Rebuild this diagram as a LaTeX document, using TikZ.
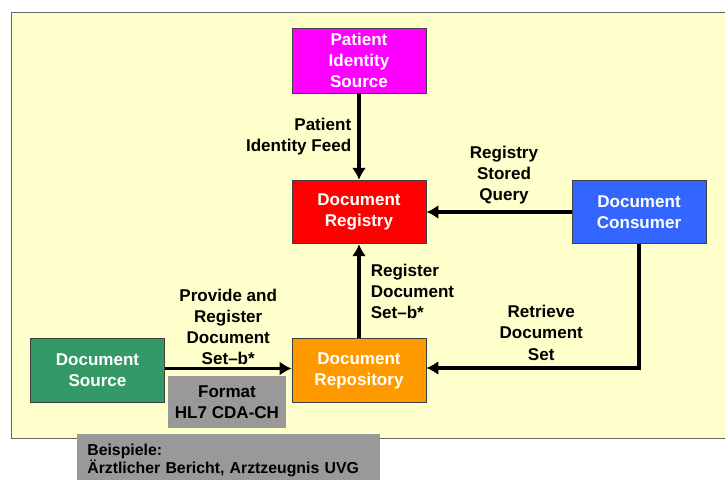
\documentclass[tikz,border=0pt]{standalone}
\usepackage{fontspec}
\setmainfont{Liberation Sans}
\usetikzlibrary{arrows.meta}
\definecolor{fond}{HTML}{FFFFCC}
\definecolor{magentaPIS}{HTML}{FF00FF}
\definecolor{bleuDC}{HTML}{3366FF}
\definecolor{vertDS}{HTML}{339966}
\definecolor{orangeDP}{HTML}{FF9900}
\definecolor{grisF}{HTML}{999999}

\begin{document}
\begin{tikzpicture}[
	font=\fontsize{9.7}{12}\selectfont\bfseries,
	acteur/.style={draw=black!75, line width=0.5pt, rectangle, text=white,
		minimum width=2.68cm, minimum height=1.27cm, align=center, inner sep=0pt},
	note/.style={fill=grisF, rectangle, inner sep=0pt},
	fleche/.style={->, >={Latex[length=6.8pt,width=8pt]}, line width=2.2pt}]
	\useasboundingbox (0,0) rectangle (14.5,-9.58);
	\clip (0,0) rectangle (14.5,-9.58);
	\draw[fill=fond, draw=black!60] (0.23,-0.24) rectangle (14.8,-8.76);

	\node[acteur, fill=magentaPIS, minimum height=1.3cm] (PIS) at (7.18,-1.21)
	{Patient\\Identity\\Source};
	\node[acteur, fill=red] (DR) at (7.18,-4.24)
	{Document\\Registry};
	\node[acteur, fill=bleuDC] (DC) at (12.78,-4.24)
	{Document\\Consumer};
	\node[acteur, fill=vertDS] (DS) at (1.95,-7.41)
	{Document\\Source};
	\node[acteur, fill=orangeDP] (DP) at (7.18,-7.41)
	{Document\\Repository};
	\node[note, minimum width=2.36cm, minimum height=1.04cm, align=center] (F) at (4.54,-8.04)
	{Format\\HL7 CDA-CH};
	\node[note, inner xsep=0.2cm, inner ysep=0.2cm, align=left, anchor=north west,
		text width=5.66cm, font=\fontsize{9}{10.2}\selectfont\bfseries] (B) at (1.54,-8.68)
	{Beispiele:\\Ärztlicher Bericht, Arztzeugnis UVG};

	\draw[fleche] (PIS) -- (DR) node[midway,left,align=right] {Patient\\Identity Feed};
	\draw[fleche] (DC) -- (DR) node[midway,above,align=center,xshift=0.1cm] {Registry\\Stored\\Query};
	\draw[fleche] (DP) -- (DR) node[midway,right,align=left,xshift=0.08cm] {Register\\Document\\Set--b*};
	\draw[fleche] (DS.east |- 0,-7.37) -- (DP.west |- 0,-7.37) node[midway,above,align=center,inner sep=1pt] {Provide and\\Register\\Document\\Set--b*};
	\draw[fleche] (DC.south) |- (DP.east |- 0,-7.36) node[pos=0.73,above,align=center] {Retrieve\\Document\\Set};
\end{tikzpicture}
\end{document}
